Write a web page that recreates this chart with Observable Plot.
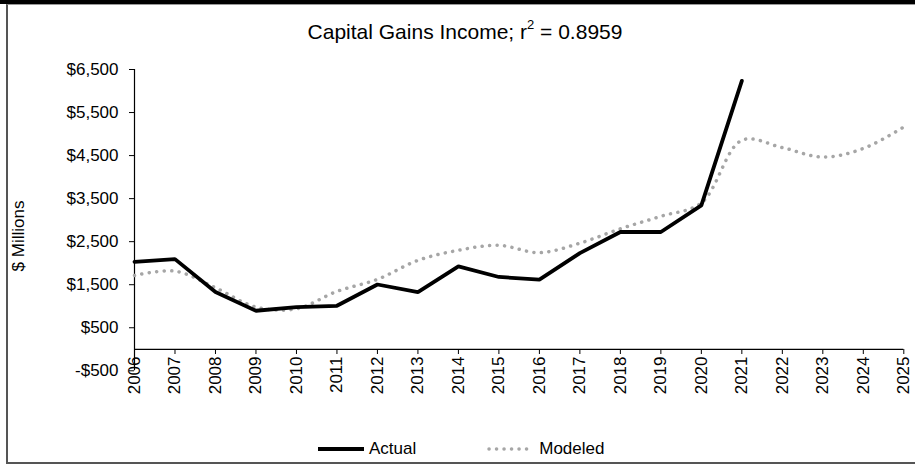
<!DOCTYPE html>
<html><head><meta charset="utf-8">
<script src="https://cdn.jsdelivr.net/npm/d3@7"></script>
<script src="https://cdn.jsdelivr.net/npm/@observablehq/plot@0.6"></script>
<style>
html,body{margin:0;padding:0;background:#fff;}
body{width:915px;height:466px;position:relative;overflow:hidden;font-family:"Liberation Sans",Arial,sans-serif;color:#000;}
#topbar{position:absolute;left:0;top:0;width:915px;height:4px;background:#000;}
#frame{position:absolute;left:6px;top:4px;width:915px;height:457px;border-left:2px solid #555;border-bottom:2px solid #555;border-top:1px solid #999;}
#title{position:absolute;left:0;top:21px;width:930px;text-align:center;font-size:21px;line-height:22px;}
#title sup{font-size:13px;vertical-align:top;line-height:12px;position:relative;top:-2px;}
#ylab{position:absolute;left:19px;top:236px;transform:translate(-50%,-50%) rotate(-90deg);font-size:17px;white-space:nowrap;}
#chart{position:absolute;left:0;top:0;}
#legend{position:absolute;left:316px;top:439px;font-size:17px;display:flex;align-items:center;height:20px;}
#legend .item{display:flex;align-items:center;}
</style>
</head><body>
<div id="topbar"></div>
<div id="frame"></div>
<div id="chart"></div>
<div id="title">Capital Gains Income; r<sup>2</sup> = 0.8959</div>
<div id="ylab">$ Millions</div>
<div id="legend">
  <div class="item"><svg width="50" height="10"><line x1="2" y1="5" x2="48" y2="5" stroke="#000" stroke-width="3.8"/></svg><span style="margin-left:3px">Actual</span></div>
  <div class="item" style="margin-left:70px"><svg width="50" height="10"><line x1="3" y1="5" x2="47" y2="5" stroke="#a6a6a6" stroke-width="3.5" stroke-dasharray="0.1 7.4" stroke-linecap="round"/></svg><span style="margin-left:3px">Modeled</span></div>
</div>
<script>
const years = [2006,2007,2008,2009,2010,2011,2012,2013,2014,2015,2016,2017,2018,2019,2020,2021,2022,2023,2024,2025];
const actual = [2030,2095,1330,895,980,1010,1505,1330,1925,1680,1620,2235,2725,2725,3345,6235];
const modeled = [1715,1815,1430,980,940,1345,1625,2065,2300,2415,2245,2465,2800,3090,3400,4855,4685,4465,4665,5165];
const yTicks = [-500,500,1500,2500,3500,4500,5500,6500];
const yTickLabels = ["-$500","$500","$1,500","$2,500","$3,500","$4,500","$5,500","$6,500"];

const actualData = actual.map((v,i)=>({year: years[i], value: v}));
const modeledData = modeled.map((v,i)=>({year: years[i], value: v}));

const chart = Plot.plot({
  width: 915, height: 420,
  marginLeft: 134, marginRight: 11.7, marginTop: 69, marginBottom: 71,
  style: {fontFamily: "'Liberation Sans', Arial, sans-serif", fontSize: "17px", color: "#000", background: "transparent", overflow: "visible"},
  x: {domain: [2006, 2025]},
  y: {domain: [-500, 6500], range: [370.3, 69]},
  marks: [
    Plot.ruleY([0], {stroke: "#000", strokeWidth: 1.2}),
    Plot.ruleX([2006], {y1: -500, y2: 6500, stroke: "#000", strokeWidth: 1.2}),
    Plot.axisX(years, {tickRotate: -90, tickFormat: d => String(d), tickSize: 5, tickPadding: 2, label: null, fontSize: 17}),
    Plot.axisY(yTicks, {tickFormat: d => yTickLabels[yTicks.indexOf(d)], tickSize: 5, tickPadding: 11, label: null, fontSize: 17}),
    Plot.line(modeledData, {x: "year", y: "value", stroke: "#a6a6a6", strokeWidth: 3.5, strokeDasharray: "0.1 7.4", strokeLinecap: "round", curve: "catmull-rom"}),
    Plot.line(actualData, {x: "year", y: "value", stroke: "#000", strokeWidth: 3.8, strokeLinejoin: "miter"})
  ]
});
document.getElementById("chart").appendChild(chart);
</script>
</body></html>
